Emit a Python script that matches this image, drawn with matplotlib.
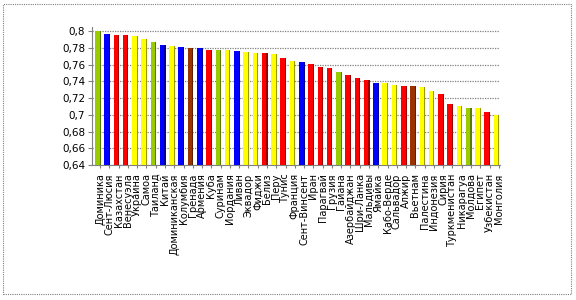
import matplotlib
matplotlib.use('Agg')
import matplotlib.pyplot as plt
from matplotlib.patches import Rectangle

countries = ['Доминика', 'Сент-Люсия', 'Казахстан', 'Венесуэла', 'Украина', 'Самоа',
             'Таиланд', 'Китай', 'Доминиканская', 'Колумбия', 'Гренада', 'Армения',
             'Куба', 'Суринам', 'Иордания', 'Ливан', 'Эквадор', 'Фиджи', 'Белиз',
             'Перу', 'Тунис', 'Франция', 'Сент-Винсент', 'Иран', 'Парагвай',
             'Грузия', 'Гайана', 'Азербайджан', 'Шри-Ланка', 'Мальдивы', 'Ямайка',
             'Кабо-Верде', 'Сальвадор', 'Алжир', 'Вьетнам', 'Палестина', 'Индонезия',
             'Сирия', 'Туркменистан', 'Никарагуа', 'Молдова', 'Египет', 'Узбекистан',
             'Монголия']
values = [0.800, 0.797, 0.796, 0.795, 0.794, 0.791, 0.787, 0.7835, 0.782, 0.781,
          0.780, 0.7795, 0.777, 0.777, 0.777, 0.776, 0.7755, 0.7735, 0.7735, 0.7725,
          0.7675, 0.7638, 0.7628, 0.7611, 0.7572, 0.7557, 0.7516, 0.7473, 0.7443,
          0.7414, 0.7379, 0.7377, 0.7361, 0.7345, 0.7345, 0.733, 0.7286, 0.7247,
          0.7127, 0.7103, 0.7079, 0.7079, 0.7032, 0.6997]
bar_colors = ['g', 'b', 'r', 'r', 'y', 'y', 'g', 'b', 'y', 'b', 'n', 'b',
              'r', 'g', 'y', 'b', 'y', 'y', 'r', 'y', 'r', 'y', 'b', 'r',
              'r', 'r', 'g', 'r', 'r', 'r', 'b', 'y', 'y', 'r', 'n', 'y',
              'y', 'r', 'r', 'y', 'g', 'y', 'r', 'y']
palette = {'g': '#99CC00', 'b': '#0000FF', 'r': '#FF0000', 'y': '#FFFF00', 'n': '#993300'}
shade = {'g': '#5C7A00', 'b': '#000099', 'r': '#990000', 'y': '#999900', 'n': '#5C1F00'}
yticks = [0.64, 0.66, 0.68, 0.70, 0.72, 0.74, 0.76, 0.78, 0.80]
ytick_labels = ['0,64', '0,66', '0,68', '0,7', '0,72', '0,74', '0,76', '0,78', '0,8']

W, H = 576, 300
fig = plt.figure(figsize=(W / 100, H / 100), dpi=100)
fig.patches.append(Rectangle((3 / W, 6 / H), 568 / W, 290 / H, transform=fig.transFigure,
                             fill=False, edgecolor='#808080', linewidth=0.8,
                             linestyle=(0, (1, 1))))
ax = fig.add_axes([92 / W, 1 - 165 / H, 408 / W, 138 / H])

x = list(range(len(values)))
ax.bar(x, values, width=0.5, bottom=0, color=[palette[c] for c in bar_colors],
       linewidth=0, zorder=3)
ax.bar([i + 0.3 for i in x], values, width=0.12,
       color=[shade[c] for c in bar_colors], linewidth=0, zorder=3)
ax.set_ylim(0.64, 0.805)
ax.set_xlim(-0.57, 43.43)
ax.set_yticks(yticks)
ax.set_yticklabels(ytick_labels, fontsize=7.5, family=['Liberation Sans Narrow', 'DejaVu Sans'])
ax.set_xticks([i + 0.3 for i in x])
ax.set_xticklabels(countries, rotation=90, fontsize=7, va='top', ha='center')
ax.tick_params(axis='x', length=2, pad=4, color='#808080')
ax.tick_params(axis='y', length=3, pad=2, color='#808080')
ax.grid(axis='y', color='#808080', linestyle=(0, (1, 1)), linewidth=0.9, zorder=0)
for s in ['top', 'right']:
    ax.spines[s].set_visible(False)
for s in ['left', 'bottom']:
    ax.spines[s].set_color('#808080')
    ax.spines[s].set_linewidth(0.8)

fig.savefig('out.png', dpi=100)
